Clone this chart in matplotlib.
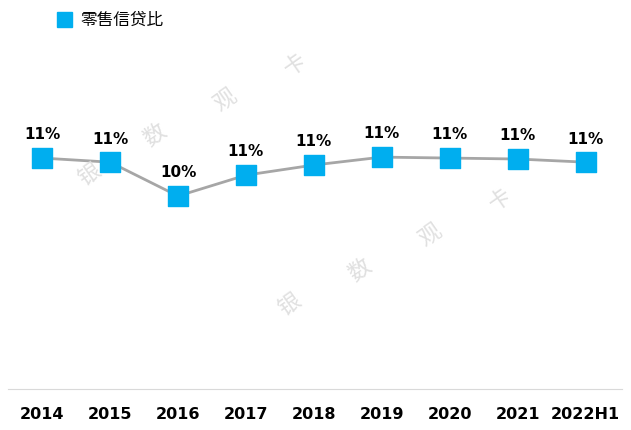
import matplotlib
matplotlib.use("Agg")
import matplotlib.pyplot as plt
from matplotlib import font_manager as fm

years = ["2014", "2015", "2016", "2017", "2018", "2019", "2020", "2021", "2022H1"]
values = [11.2, 11.07, 10.0, 10.66, 10.98, 11.23, 11.2, 11.17, 11.07]
labels = ["11%", "11%", "10%", "11%", "11%", "11%", "11%", "11%", "11%"]
series_name = "零售信贷比"

cjk = None
for f in fm.findSystemFonts():
    if "CJK" in f and ("SC" in f or "Sans" in f):
        cjk = f
        if "SC" in f:
            break
cjkprop = fm.FontProperties(fname=cjk) if cjk else fm.FontProperties(family="Noto Sans CJK SC")

fig = plt.figure(figsize=(6.31, 4.31), dpi=100)
ax = fig.add_axes([0.013, 0.095, 0.972, 0.812])
x = list(range(len(years)))
ax.plot(x, values, color="#A6A6A6", lw=2, zorder=1)
ax.scatter(x, values, marker="s", s=190, color="#00AEEF", zorder=2)
for xi, v, t in zip(x, values, labels):
    ax.annotate(t, (xi, v), xytext=(0, 12), textcoords="offset points",
                ha="center", va="bottom", fontsize=11, fontweight="bold", color="black")
ax.set_xlim(-0.5, 8.53)
ax.set_ylim(3.9, 14.96)
ax.set_yticks([])
ax.set_xticks(x)
ax.set_xticklabels(years, fontsize=11.5, fontweight="bold")
ax.tick_params(axis="x", length=0, pad=12)
for s in ["top", "right", "left"]:
    ax.spines[s].set_visible(False)
ax.spines["bottom"].set_color("#D9D9D9")
wm = fm.FontProperties(fname=cjk, size=16) if cjk else None
for txt, (px, py) in zip(["银", "数", "观", "卡"], [(90, 175), (155, 135), (225, 100), (295, 65)]):
    fig.text(px / 631, 1 - py / 431, txt, fontproperties=wm, color="#E0E0E0", rotation=35, ha="center", va="center")
for txt, (px, py) in zip(["银", "数", "观", "卡"], [(290, 305), (360, 270), (430, 235), (500, 200)]):
    fig.text(px / 631, 1 - py / 431, txt, fontproperties=wm, color="#E0E0E0", rotation=35, ha="center", va="center")
fig.patches.append(plt.Rectangle((57 / 631, 1 - 28 / 431), 15 / 631, 15 / 431,
                                 transform=fig.transFigure, color="#00AEEF"))
lp = fm.FontProperties(fname=cjk, size=12) if cjk else None
fig.text(80 / 631, 1 - 20 / 431, series_name, fontproperties=lp, va="center", ha="left")
fig.savefig("out.png", dpi=100)
